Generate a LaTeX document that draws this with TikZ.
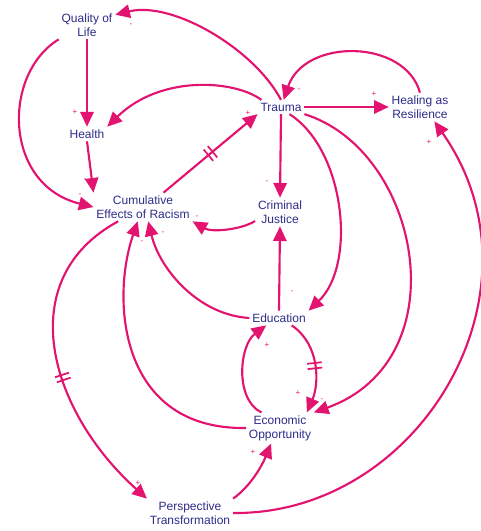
\documentclass[tikz,border=0pt]{standalone}
\usepackage{fontspec}
\setmainfont{Liberation Sans}
\usepackage{tikz}
\usetikzlibrary{arrows.meta}
\usetikzlibrary{decorations.markings}
\usepackage{xcolor}

\definecolor{linkpink}{RGB}{226,20,112}
\definecolor{varnavy}{RGB}{44,44,136}

\tikzset{
  var/.style={inner sep=2pt, align=center, text=varnavy, font=\fontsize{9}{10.5}\selectfont},
  link/.style={draw=linkpink, line width=1.6pt, -{Triangle[length=11pt,width=10pt]}},
  sign/.style={inner sep=0pt, text=linkpink, font=\fontsize{6}{6}\selectfont},
  delay/.style={postaction={decorate}, decoration={markings, mark=at position #1 with {\draw[-, draw=linkpink, line width=1.3pt] (-2pt,-5.5pt) -- (-2pt,5.5pt) (2pt,-5.5pt) -- (2pt,5.5pt);}}}
}

\begin{document}
\begin{tikzpicture}[x=0.75pt,y=0.75pt,yscale=-1,xscale=1]
\path[use as bounding box] (0,0) rectangle (480,531);

% Text Node
\node[var] (qol) at (87,25) {Quality of\\Life};
% Text Node
\node[var] (health) at (87,134) {Health};
% Text Node
\node[var] (trauma) at (281,107) {Trauma};
% Text Node
\node[var] (healing) at (420,107) {Healing as\\Resilience};
% Text Node
\node[var] (cer) at (143,207) {Cumulative\\Effects of Racism};
% Text Node
\node[var] (cj) at (280,212) {Criminal\\Justice};
% Text Node
\node[var] (edu) at (279,318) {Education};
% Text Node
\node[var] (eco) at (280,428) {Economic\\Opportunity};
% Text Node
\node[var] (pt) at (190,513) {Perspective\\Transformation};

%Curve Lines
\draw[link] (trauma.north) .. controls +(-26,-50) and +(58,-14) .. (qol.20);
\draw[link] (qol.south) -- (health.north);
\draw[link] (trauma.160) .. controls +(-27,-20) and +(53,-52) .. (health.north east);
\draw[link] (qol.south west) .. controls +(-57,35) and +(-90,-22) .. (cer.west);
\draw[link] (health.south) -- (cer.north west);
\draw[link, delay=0.5] (cer.35) -- (trauma.south west);
\draw[link] (trauma.east) -- (healing.west);
\draw[link] (healing.north) .. controls +(-15,-54) and +(21,-62) .. (trauma.70);
\draw[link] (trauma.south) -- (cj.north);
\draw[link] (trauma.-40) .. controls +(56,36) and +(48,-46) .. (edu.north east);
\draw[link] (trauma.south east) .. controls +(116,36) and +(147,-53) .. (eco.north east);
\draw[link] (cj.200) .. controls +(-15,9) and +(19,11) .. (cer.south east);
\draw[link] (edu.north) -- (cj.south);
\draw[link] (edu.west) .. controls +(-51,-3) and +(11.5,48) .. (cer.-70);
\draw[link] (eco.west) .. controls +(-127,2) and +(-27,78) .. (cer.-110);
\draw[link, delay=0.55] (cer.-150) .. controls +(-107,58) and +(-98,-88) .. (pt.north west);
\draw[link, delay=0.5] (edu.-30) .. controls +(29,20) and +(12,-28) .. (eco.30);
\draw[link] (eco.140) .. controls +(-27,-13) and +(-27,20) .. (edu.-150);
\draw[link] (pt.north east) .. controls +(18,-13) and +(-9,22) .. (eco.-120);
\draw[link] (pt.east) .. controls +(188,2) and +(118,168) .. (healing.-45);

% Polarity signs
\foreach \x/\y/\s [count=\i] in {131/25/-, 75/112/+, 115/125/-, 85/180/-, 80/195/-,
    197/217/-, 142/242/-, 163/233/-, 248/113/+, 299/90/-, 374/94/+, 429/142/+,
    267/182/-, 292/292/-, 267/345/+, 298/393/+, 322/400/-, 253/452/+, 138/483/+}
  \node[sign] (sign\i) at (\x,\y) {\s};

\end{tikzpicture}
\end{document}
